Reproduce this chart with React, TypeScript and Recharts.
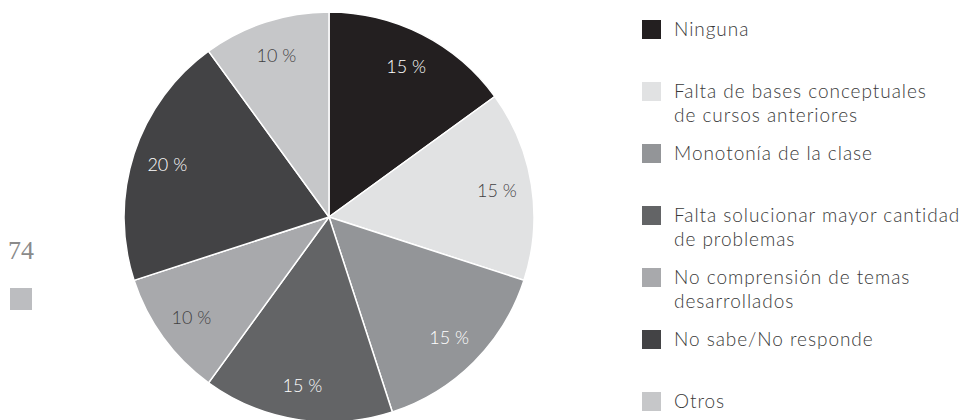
import { PieChart, Pie, Cell, Legend } from 'recharts';

const categories = [
  'Ninguna',
  'Falta de bases conceptuales\nde cursos anteriores',
  'Monotonía de la clase',
  'Falta solucionar mayor cantidad\nde problemas',
  'No comprensión de temas\ndesarrollados',
  'No sabe/No responde',
  'Otros',
];
const values = [15, 15, 15, 15, 10, 20, 10];
const colors = ['#231f20', '#e1e2e3', '#939598', '#636466', '#a8a9ac', '#434345', '#c6c7c9'];
const labelColors = ['#ffffff', '#414042', '#ffffff', '#ffffff', '#414042', '#ffffff', '#414042'];

const data = categories.map((name, i) => ({ name, value: values[i] }));

const FONT = 'Lato, "Open Sans", sans-serif';
const RAD = Math.PI / 180;

const renderLabel = (props: any) => {
  const { cx, cy, midAngle, value, index } = props;
  const r = 170;
  const x = cx + r * Math.cos(-midAngle * RAD);
  const y = cy + r * Math.sin(-midAngle * RAD);
  return (
    <text
      x={x}
      y={y}
      fill={labelColors[index]}
      textAnchor="middle"
      dominantBaseline="central"
      fontFamily={FONT}
      fontWeight={300}
      fontSize={18}
    >
      {`${value} %`}
    </text>
  );
};

const LegendContent = () => (
  <div style={{ fontFamily: FONT, fontWeight: 300, fontSize: 19, letterSpacing: 0.95, color: '#3a3a3a' }}>
    {categories.map((c, i) => (
      <div
        key={c}
        style={{ position: 'absolute', top: i * 62, left: 0, display: 'flex', alignItems: 'flex-start' }}
      >
        <span style={{ width: 19, height: 19, background: colors[i], marginRight: 13, flex: 'none' }} />
        <span style={{ lineHeight: '24px', marginTop: -3, whiteSpace: 'pre' }}>{c}</span>
      </div>
    ))}
  </div>
);

export default function App() {
  return (
    <div style={{ position: 'fixed', left: 0, top: 0, width: 966, height: 420, background: '#fff' }}>
      <div
        style={{
          position: 'absolute',
          left: 8,
          top: 236,
          fontFamily: '"Liberation Serif", serif',
          fontSize: 26,
          color: '#8a8a8a',
        }}
      >
        74
      </div>
      <div style={{ position: 'absolute', left: 10, top: 288, width: 22, height: 22, background: '#bcbdc0' }} />
      <PieChart width={966} height={420} margin={{ top: 0, right: 0, bottom: 0, left: 0 }}>
        <Pie
          data={data}
          dataKey="value"
          nameKey="name"
          cx={329}
          cy={217}
          outerRadius={205}
          startAngle={90}
          endAngle={-270}
          stroke="#ffffff"
          strokeWidth={1.5}
          label={renderLabel}
          labelLine={false}
          isAnimationActive={false}
        >
          {data.map((d, i) => (
            <Cell key={d.name} fill={colors[i]} />
          ))}
        </Pie>
        <Legend
          content={<LegendContent />}
          wrapperStyle={{ position: 'absolute', left: 642, top: 20, width: 324, height: 400 }}
        />
      </PieChart>
    </div>
  );
}
